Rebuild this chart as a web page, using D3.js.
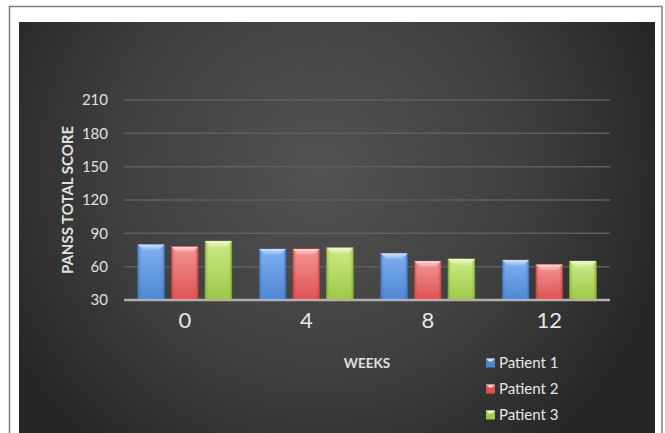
<!DOCTYPE html>
<html><head><meta charset="utf-8">
<script src="https://cdn.jsdelivr.net/npm/d3@7"></script>
<style>html,body{margin:0;padding:0;background:#fff;}svg{display:block;}</style>
</head><body>
<script>
const weeks = ["0", "4", "8", "12"];
const seriesNames = ["Patient 1", "Patient 2", "Patient 3"];
const patient1 = [80, 76, 72, 66];
const patient2 = [78, 76, 65, 62];
const patient3 = [83, 77, 67, 65];
const yTicks = [30, 60, 90, 120, 150, 180, 210];
const seriesValues = [patient1, patient2, patient3];

const W = 665, H = 433;
const svg = d3.select("body").append("svg").attr("width", W).attr("height", H);
const defs = svg.append("defs");

const bg = defs.append("radialGradient").attr("id", "bg")
  .attr("gradientUnits", "userSpaceOnUse")
  .attr("cx", 320).attr("cy", 170).attr("r", 360);
bg.append("stop").attr("offset", "0%").attr("stop-color", "#525252");
bg.append("stop").attr("offset", "55%").attr("stop-color", "#404040");
bg.append("stop").attr("offset", "100%").attr("stop-color", "#262626");

const palette = [
  {base: "#4f86d2", light: "#7fb0f2", dark: "#3a6bb3", top: "#d8ecff"},
  {base: "#dc5252", light: "#f59494", dark: "#b83c3c", top: "#ffe0e0"},
  {base: "#9cc948", light: "#cdea86", dark: "#7ea433", top: "#f6ffd8"}
];
palette.forEach((c, i) => {
  const g = defs.append("linearGradient").attr("id", "bar" + i)
    .attr("x1", 0).attr("y1", 0).attr("x2", 0).attr("y2", 1);
  g.append("stop").attr("offset", "0%").attr("stop-color", c.light);
  g.append("stop").attr("offset", "100%").attr("stop-color", c.base);
  const h = defs.append("linearGradient").attr("id", "side" + i)
    .attr("x1", 0).attr("y1", 0).attr("x2", 1).attr("y2", 0);
  h.append("stop").attr("offset", "0%").attr("stop-color", c.dark).attr("stop-opacity", 0.55);
  h.append("stop").attr("offset", "12%").attr("stop-color", c.dark).attr("stop-opacity", 0);
  h.append("stop").attr("offset", "88%").attr("stop-color", c.dark).attr("stop-opacity", 0);
  h.append("stop").attr("offset", "100%").attr("stop-color", c.dark).attr("stop-opacity", 0.55);
  const t = defs.append("linearGradient").attr("id", "top" + i)
    .attr("x1", 0).attr("y1", 0).attr("x2", 0).attr("y2", 1);
  t.append("stop").attr("offset", "0%").attr("stop-color", c.top);
  t.append("stop").attr("offset", "100%").attr("stop-color", c.light);
});

// frame
svg.append("rect").attr("x", 9.5).attr("y", 6.5).attr("width", 652.5).attr("height", 450)
  .attr("fill", "#fff").attr("stroke", "#7d7d7d").attr("stroke-width", 1.5);
svg.append("rect").attr("x", 19).attr("y", 22).attr("width", 636).attr("height", 420)
  .attr("fill", "url(#bg)");

const x0 = d3.scaleBand().domain(weeks).range([124, 610]).padding(0);
const x1 = d3.scaleBand().domain(seriesNames).range([0, x0.bandwidth()])
  .paddingInner(0.21).paddingOuter(0.41);
const y = d3.scaleLinear().domain([30, 210]).range([300, 100]);

const font = "Lato, 'Open Sans', sans-serif";

// gridlines
svg.append("g").selectAll("line").data(yTicks.filter(d => d > 30)).join("line")
  .attr("x1", 124).attr("x2", 610)
  .attr("y1", d => y(d)).attr("y2", d => y(d))
  .attr("stroke", "#5e5e5e").attr("stroke-width", 1.5);

// y axis
const yAxis = svg.append("g").attr("transform", "translate(114,0)")
  .call(d3.axisLeft(y).tickValues(yTicks).tickSize(0).tickPadding(6));
yAxis.select(".domain").remove();
yAxis.selectAll("text").attr("fill", "#e0e0e0").attr("font-size", 15).attr("font-family", font);

// bars
const groups = svg.append("g").selectAll("g").data(weeks).join("g")
  .attr("transform", d => `translate(${x0(d)},0)`);
seriesNames.forEach((s, si) => {
  groups.each(function(w, wi) {
    const v = seriesValues[si][wi];
    const bx = x1(s), bw = x1.bandwidth(), by = y(v), bh = y(30) - y(v);
    const g = d3.select(this);
    g.append("rect").attr("x", bx).attr("y", by).attr("width", bw).attr("height", bh)
      .attr("fill", `url(#bar${si})`).attr("stroke", palette[si].dark).attr("stroke-width", 0.8);
    g.append("rect").attr("x", bx).attr("y", by).attr("width", bw).attr("height", bh)
      .attr("fill", `url(#side${si})`);
    const b = 6;
    g.append("path")
      .attr("d", `M${bx},${by}L${bx + bw},${by}L${bx + bw - b},${by + b}L${bx + b},${by + b}Z`)
      .attr("fill", `url(#top${si})`).attr("opacity", 0.9);
  });
});

// baseline
svg.append("line").attr("x1", 124).attr("x2", 610).attr("y1", y(30)).attr("y2", y(30))
  .attr("stroke", "#b0b0b0").attr("stroke-width", 2.5);

// x axis labels
const xAxis = svg.append("g").attr("transform", `translate(0,${y(30)})`)
  .call(d3.axisBottom(x0).tickSize(0).tickPadding(12));
xAxis.select(".domain").remove();
xAxis.selectAll("text").attr("fill", "#e6e6e6").attr("font-size", 22).attr("font-family", font);

// axis titles
svg.append("text").attr("x", 367).attr("y", 368).attr("text-anchor", "middle")
  .attr("fill", "#e0e0e0").attr("font-size", 13.5).attr("font-weight", "bold")
  .attr("font-family", font).text("WEEKS");
svg.append("text").attr("transform", "translate(73,200) rotate(-90)").attr("text-anchor", "middle")
  .attr("fill", "#e0e0e0").attr("font-size", 15).attr("font-weight", "bold")
  .attr("font-family", font).text("PANSS TOTAL SCORE");

// legend
const leg = svg.append("g").selectAll("g").data(seriesNames).join("g")
  .attr("transform", (d, i) => `translate(486,${363 + i * 26})`);
leg.append("rect").attr("x", 0).attr("y", -4.5).attr("width", 9).attr("height", 9)
  .attr("fill", (d, i) => palette[i].base);
leg.append("path").attr("d", "M0,-4.5L9,-4.5L6,-1.5L3,-1.5Z")
  .attr("fill", (d, i) => palette[i].top).attr("opacity", 0.9);
leg.append("text").attr("x", 13).attr("y", 0).attr("dy", "0.35em")
  .attr("fill", "#e6e6e6").attr("font-size", 15).attr("font-family", font).text(d => d);
</script>
</body></html>
